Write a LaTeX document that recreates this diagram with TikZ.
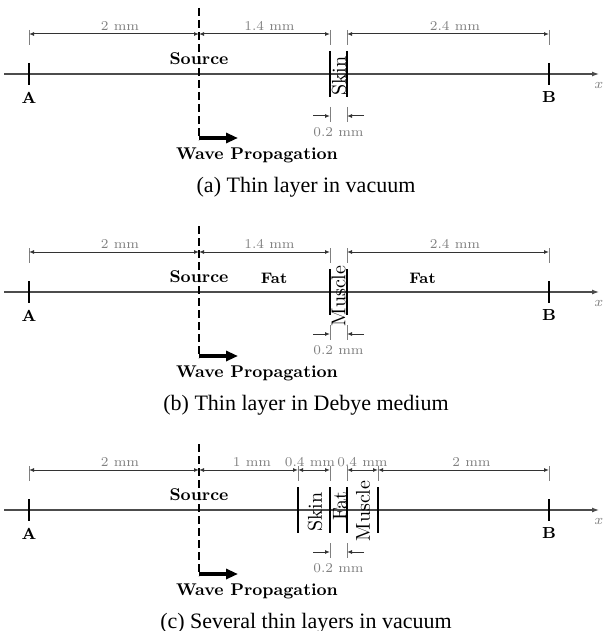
\documentclass[tikz,border=0pt]{standalone}
\usepackage{fontspec}
\newfontfamily\capfont{Liberation Serif}
\usetikzlibrary{arrows.meta}
\definecolor{dimgray}{gray}{0.5}
\definecolor{axgray}{gray}{0.3}
\tikzset{
  axisline/.style={draw=axgray, line width=0.6pt, -{Latex[length=3.5pt,width=2.5pt]}},
  axlbl/.style={text=dimgray, font=\fontsize{7}{8}\selectfont, inner sep=0pt},
  ptick/.style={draw=black, line width=1.3pt},
  ptlabel/.style={font=\fontsize{8}{10}\selectfont\bfseries, inner sep=0pt},
  boldlbl/.style={font=\fontsize{8.5}{10}\selectfont\bfseries, inner sep=0pt},
  fatlbl/.style={font=\fontsize{7.6}{9}\selectfont\bfseries, inner sep=0pt},
  srcline/.style={draw=black, line width=1pt, dash pattern=on 4pt off 2pt},
  wavearrow/.style={draw=black, line width=2pt, -{Triangle[length=6pt,width=5pt]}},
  layerline/.style={draw=black, line width=1pt},
  layerlabel/.style={font=\fontsize{10}{12}\selectfont, rotate=90, inner sep=0pt},
  dimtk/.style={draw=dimgray, line width=0.5pt},
  dimline/.style={draw=black!80, line width=0.5pt, {Latex[length=2.5pt,width=2pt]}-{Latex[length=2.5pt,width=2pt]}},
  dimarrow/.style={draw=black!80, line width=0.5pt, -{Latex[length=2.5pt,width=2pt]}},
  dimlabel/.style={text=dimgray, font=\fontsize{6.75}{8}\selectfont, inner sep=0pt},
  captxt/.style={font=\capfont\fontsize{11}{13}\selectfont, inner sep=0pt, anchor=base},
}
\newcommand\layerln[2]{%
  \coordinate (#1t) at (#2,-23); \coordinate (#1b) at (#2,23);
  \draw[layerline] (#1t) -- (#1b);}
\newcommand\dimtick[2]{%
  \coordinate (#1) at (#2,-40);
  \coordinate (#1t) at (#2,-44); \coordinate (#1b) at (#2,-29);
  \draw[dimtk] (#1t) -- (#1b);}
\newcommand\dimspan[4]{%
  \draw[dimline] (#1) -- node[dimlabel, xshift=#4, yshift=4pt] (l#1#2) {#3} (#2);}
\newcommand\thindim[2]{%
  \coordinate (e1t) at (#1,33); \coordinate (e1b) at (#1,48);
  \coordinate (e2t) at (#2,33); \coordinate (e2b) at (#2,48);
  \draw[dimtk] (e1t) -- (e1b);
  \draw[dimtk] (e2t) -- (e2b);
  \coordinate (e1) at (#1,42); \coordinate (e2) at (#2,42);
  \coordinate (f1) at (#1-17,42); \coordinate (f2) at (#2+17,42);
  \draw[dimarrow] (f1) -- (e1);
  \draw[dimarrow] (f2) -- (e2);
  \node[dimlabel] (thin) at ({(#1+#2)/2},58) {0.2 mm};}
\newcommand\panelbase{%
  \coordinate (axL) at (4,0); \coordinate (axR) at (599,0);
  \draw[axisline] (axL) -- (axR);
  \node[axlbl] (xlab) at (599,11) {$x$};
  \coordinate (At) at (29,-11); \coordinate (Ab) at (29,11);
  \draw[ptick] (At) -- (Ab);
  \node[ptlabel] (A) at (29,23.5) {A};
  \coordinate (Bt) at (549,-11); \coordinate (Bb) at (549,11);
  \draw[ptick] (Bt) -- (Bb);
  \node[ptlabel] (B) at (549,23.5) {B};
  \coordinate (St) at (199,-66); \coordinate (Sb) at (199,66);
  \draw[srcline] (St) -- (Sb);
  \coordinate (S) at (199,-40);
  \node[boldlbl] (src) at (199,-15) {Source};
  \coordinate (w0) at (199,64); \coordinate (w1) at (238,64);
  \draw[wavearrow] (w0) -- (w1);
  \node[boldlbl, anchor=base] (wp) at (257,85) {Wave Propagation};
  \dimtick{dA}{29}
  \dimtick{dB}{549}}
\begin{document}
\begin{tikzpicture}[x=0.5pt, y=-0.5pt]
\useasboundingbox (0,0) rectangle (602,631);
% (a)
\begin{scope}[shift={(0,74)}, name prefix=a-]
  \panelbase
  \layerln{L1}{330} \layerln{L2}{347}
  \node[layerlabel] (skin) at (339,2) {Skin};
  \dimtick{d1}{330} \dimtick{d2}{347}
  \dimspan{dA}{S}{2 mm}{3pt}
  \dimspan{S}{d1}{1.4 mm}{2.5pt}
  \dimspan{d2}{dB}{2.4 mm}{3.5pt}
  \thindim{330}{347}
  \node[captxt] (cap) at (306,118) {(a) Thin layer in vacuum};
\end{scope}
% (b)
\begin{scope}[shift={(0,292)}, name prefix=b-]
  \panelbase
  \layerln{L1}{330} \layerln{L2}{347}
  \node[layerlabel] (muscle) at (338.5,4) {Muscle};
  \node[fatlbl] (fat1) at (274,-14) {Fat};
  \node[fatlbl] (fat2) at (422.5,-14) {Fat};
  \dimtick{d1}{330} \dimtick{d2}{347}
  \dimspan{dA}{S}{2 mm}{3pt}
  \dimspan{S}{d1}{1.4 mm}{2.5pt}
  \dimspan{d2}{dB}{2.4 mm}{3.5pt}
  \thindim{330}{347}
  \node[captxt] (cap) at (306,118) {(b) Thin layer in Debye medium};
\end{scope}
% (c)
\begin{scope}[shift={(0,510)}, name prefix=c-]
  \panelbase
  \layerln{L1}{298} \layerln{L2}{330} \layerln{L3}{347} \layerln{L4}{378}
  \node[layerlabel] (skin) at (315,2) {Skin};
  \node[layerlabel] (fat) at (340,-4) {Fat};
  \node[layerlabel] (muscle) at (363,1) {Muscle};
  \dimtick{d1}{298} \dimtick{d2}{330} \dimtick{d3}{347} \dimtick{d4}{378}
  \dimspan{dA}{S}{2 mm}{3pt}
  \dimspan{S}{d1}{1 mm}{1.75pt}
  \dimspan{d1}{d2}{0.4 mm}{-2pt}
  \dimspan{d3}{d4}{0.4 mm}{0pt}
  \dimspan{d4}{dB}{2 mm}{4pt}
  \thindim{330}{347}
  \node[captxt] (cap) at (306,118) {(c) Several thin layers in vacuum};
\end{scope}
\end{tikzpicture}
\end{document}
